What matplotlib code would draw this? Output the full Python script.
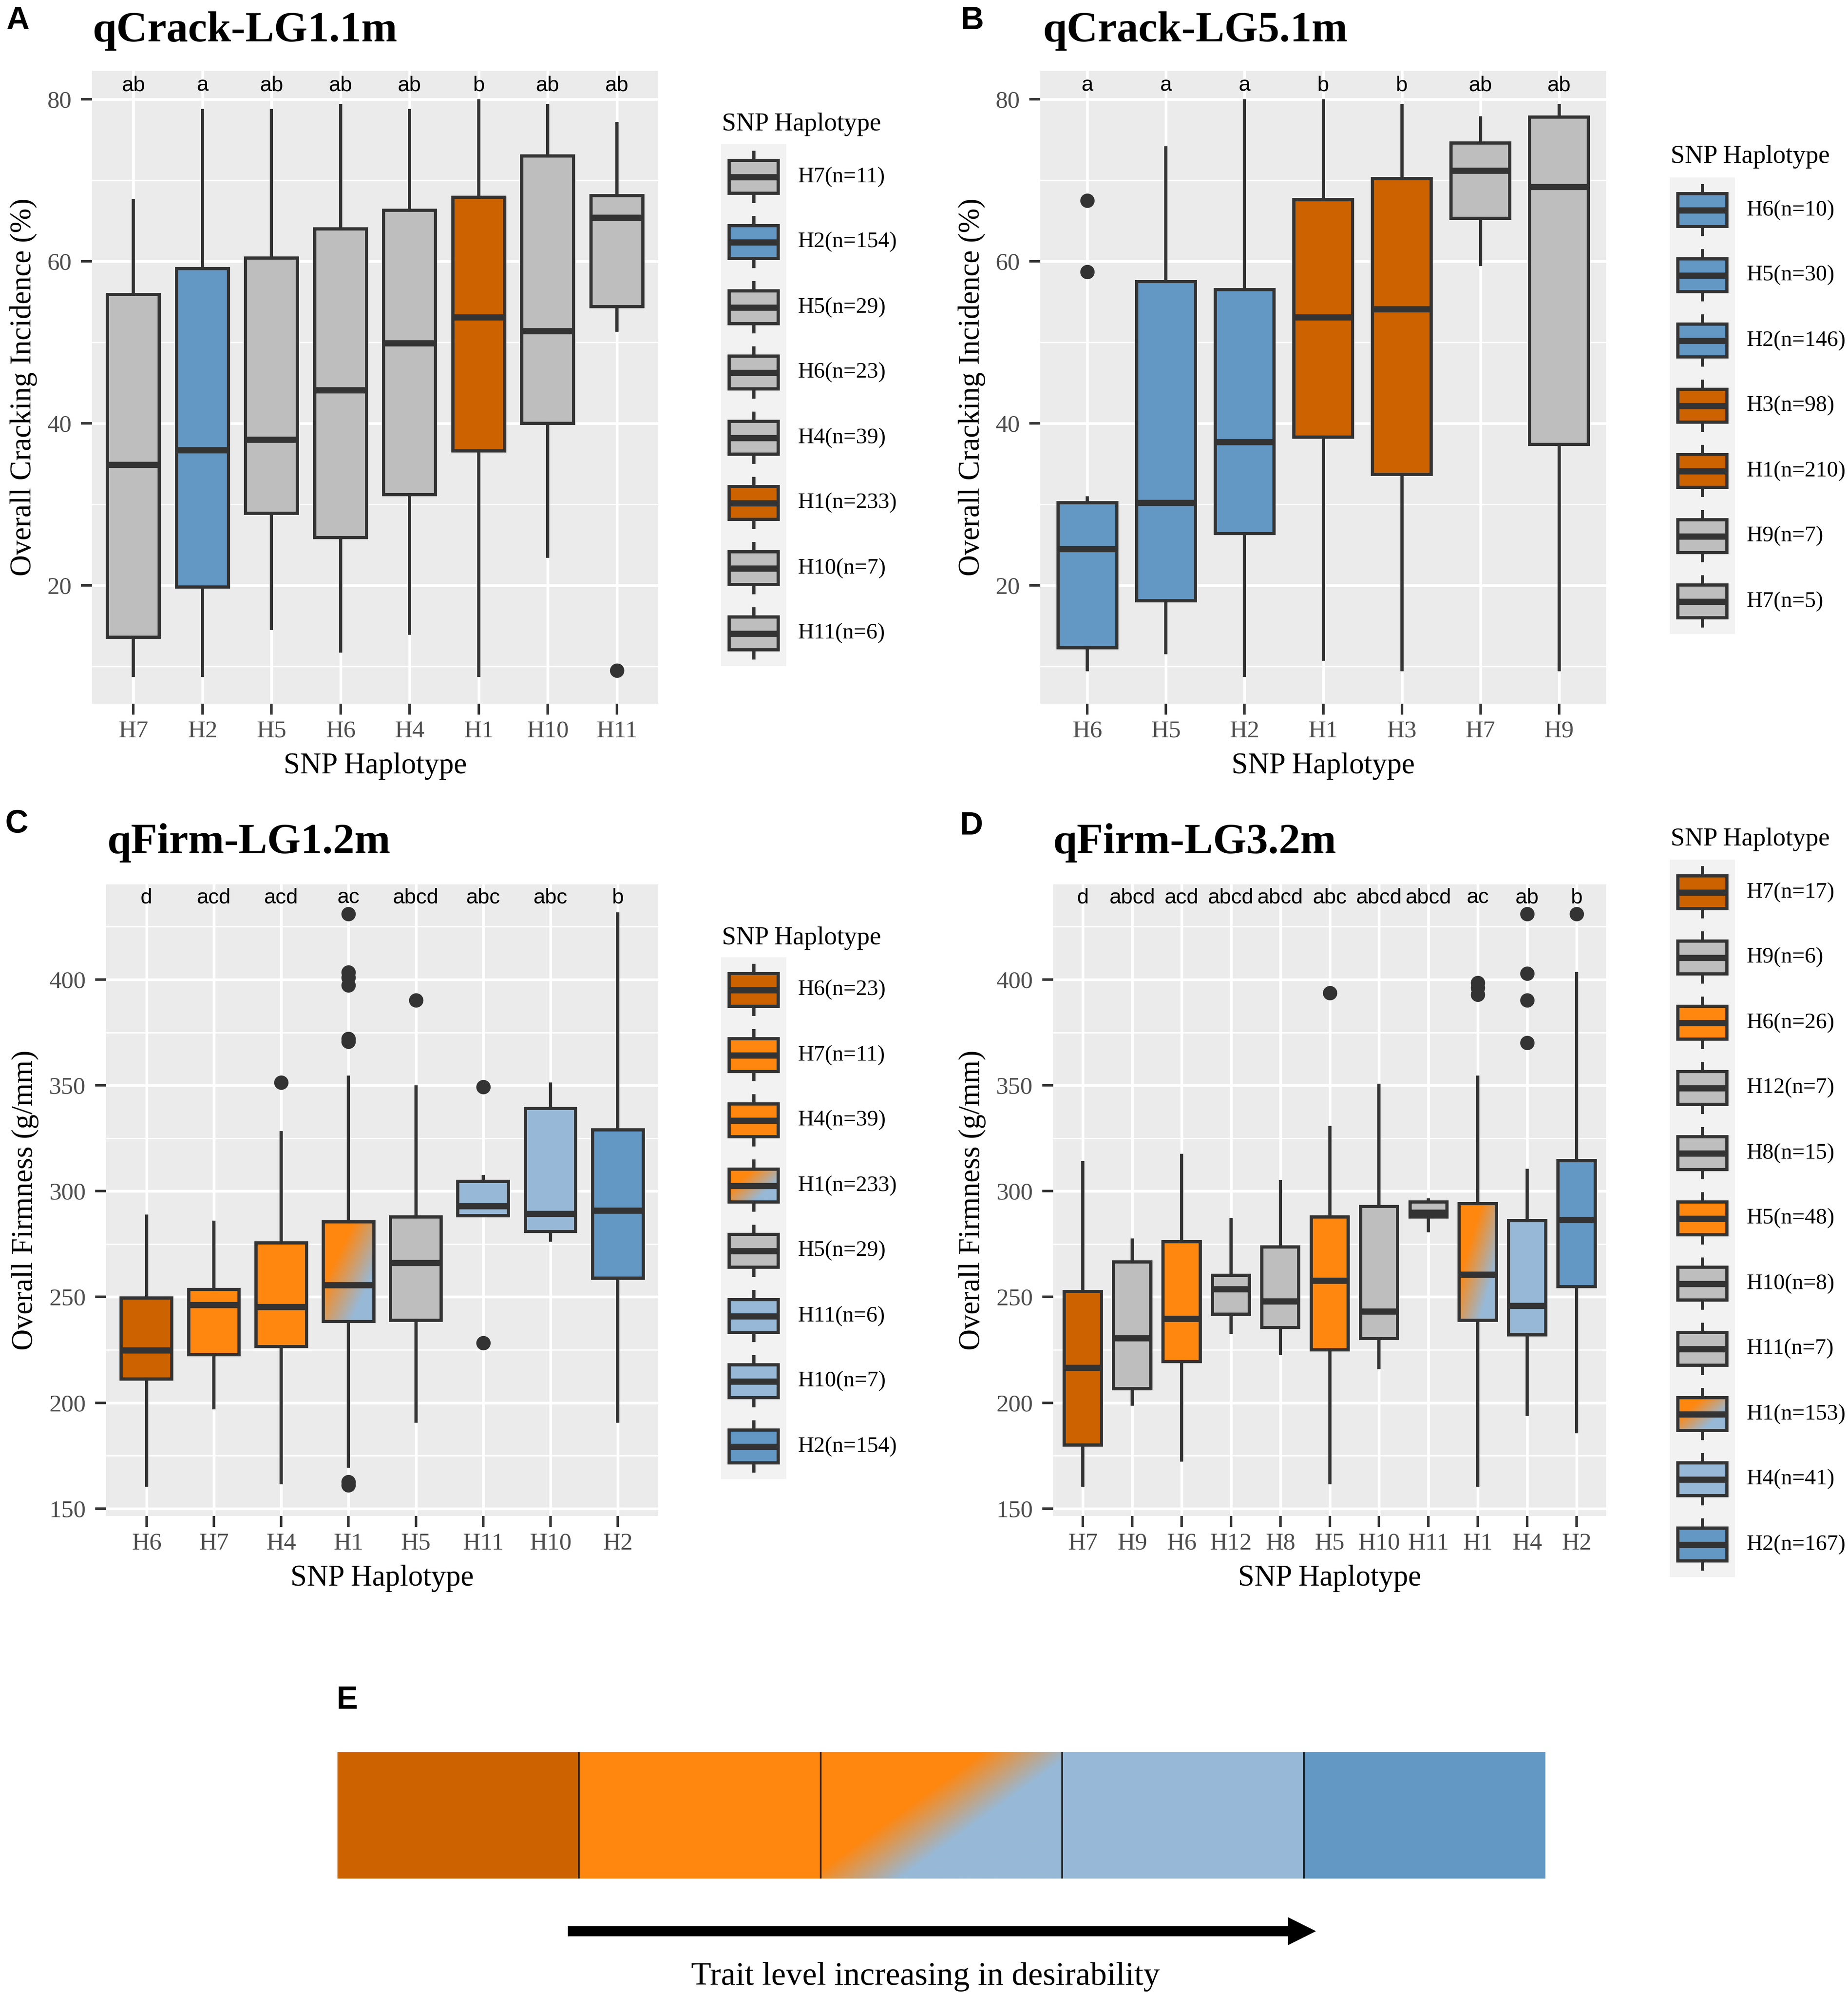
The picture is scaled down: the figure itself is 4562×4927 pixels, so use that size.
import numpy as np
import matplotlib
matplotlib.use('Agg')
import matplotlib.pyplot as plt
from matplotlib.patches import Rectangle, FancyArrow
from matplotlib.colors import to_rgb

plt.rcParams['font.family'] = ['Liberation Serif', 'DejaVu Serif']

# ---------------- data ----------------
DORANGE = '#CC6300'
ORANGE = '#FF870F'
LBLUE = '#97B9D7'
BLUE = '#6397C4'
GREY = '#BEBEBE'
GRAD = 'gradient'

# Panel A: qCrack-LG1.1m
cats_A = ['H7', 'H2', 'H5', 'H6', 'H4', 'H1', 'H10', 'H11']
lo_A = [8.9, 8.9, 14.7, 11.9, 14.1, 8.9, 23.6, 51.5]
q1_A = [13.6, 19.8, 28.9, 25.9, 31.2, 36.6, 40.0, 54.4]
med_A = [34.9, 36.7, 38.0, 44.1, 49.9, 53.1, 51.4, 65.4]
q3_A = [55.9, 59.1, 60.4, 64.0, 66.3, 67.9, 73.0, 68.1]
hi_A = [67.5, 78.6, 78.6, 79.2, 78.6, 79.8, 79.2, 77.0]
fl_A = [[], [], [], [], [], [], [], [9.5]]
col_A = [GREY, BLUE, GREY, GREY, GREY, DORANGE, GREY, GREY]
let_A = ['ab', 'a', 'ab', 'ab', 'ab', 'b', 'ab', 'ab']
leg_A = ['H7(n=11)', 'H2(n=154)', 'H5(n=29)', 'H6(n=23)', 'H4(n=39)',
         'H1(n=233)', 'H10(n=7)', 'H11(n=6)']
legcol_A = [GREY, BLUE, GREY, GREY, GREY, DORANGE, GREY, GREY]

# Panel B: qCrack-LG5.1m
cats_B = ['H6', 'H5', 'H2', 'H1', 'H3', 'H7', 'H9']
lo_B = [9.6, 11.7, 8.9, 10.9, 9.6, 59.6, 9.6]
q1_B = [12.3, 18.1, 26.4, 38.3, 33.7, 65.3, 37.4]
med_B = [24.5, 30.2, 37.7, 53.1, 54.1, 71.2, 69.2]
q3_B = [30.2, 57.5, 56.5, 67.6, 70.2, 74.6, 77.8]
hi_B = [30.8, 74.0, 79.8, 79.8, 79.2, 77.7, 79.2]
fl_B = [[67.5, 58.7], [], [], [], [], [], []]
col_B = [BLUE, BLUE, BLUE, DORANGE, DORANGE, GREY, GREY]
let_B = ['a', 'a', 'a', 'b', 'b', 'ab', 'ab']
leg_B = ['H6(n=10)', 'H5(n=30)', 'H2(n=146)', 'H3(n=98)', 'H1(n=210)',
         'H9(n=7)', 'H7(n=5)']
legcol_B = [BLUE, BLUE, BLUE, DORANGE, DORANGE, GREY, GREY]

# Panel C: qFirm-LG1.2m
cats_C = ['H6', 'H7', 'H4', 'H1', 'H5', 'H11', 'H10', 'H2']
lo_C = [161.0, 197.7, 162.2, 170.0, 191.3, 288.3, 276.8, 191.3]
q1_C = [211.3, 222.8, 226.5, 238.5, 238.9, 288.3, 281.0, 258.8]
med_C = [224.8, 246.3, 245.3, 255.6, 266.1, 293.0, 289.3, 290.8]
q3_C = [249.5, 253.6, 275.6, 285.6, 287.8, 304.7, 339.1, 328.9]
hi_C = [288.1, 285.4, 327.7, 353.8, 349.2, 306.9, 350.6, 431.0]
fl_C = [[], [], [351.4],
        [431.0, 403.4, 401.0, 397.3, 372.1, 370.7, 162.5, 161.0],
        [390.2], [349.2, 228.2], [], []]
col_C = [DORANGE, ORANGE, ORANGE, GRAD, GREY, LBLUE, LBLUE, BLUE]
let_C = ['d', 'acd', 'acd', 'ac', 'abcd', 'abc', 'abc', 'b']
leg_C = ['H6(n=23)', 'H7(n=11)', 'H4(n=39)', 'H1(n=233)', 'H5(n=29)',
         'H11(n=6)', 'H10(n=7)', 'H2(n=154)']
legcol_C = [DORANGE, ORANGE, ORANGE, GRAD, GREY, LBLUE, LBLUE, BLUE]

# Panel D: qFirm-LG3.2m
cats_D = ['H7', 'H9', 'H6', 'H12', 'H8', 'H5', 'H10', 'H11', 'H1', 'H4', 'H2']
lo_D = [161.0, 199.4, 173.0, 233.3, 223.3, 162.2, 216.5, 281.2, 161.0, 194.5, 186.4]
q1_D = [180.1, 206.7, 219.4, 241.9, 235.6, 225.0, 230.4, 287.8, 238.9, 232.1, 254.8]
med_D = [216.5, 230.6, 239.7, 253.7, 248.0, 257.8, 243.1, 290.0, 260.7, 245.8, 286.4]
q3_D = [252.6, 266.6, 276.1, 260.3, 273.7, 287.8, 292.7, 294.9, 294.2, 286.1, 314.5]
hi_D = [313.5, 276.8, 316.9, 286.4, 304.4, 330.1, 350.1, 295.9, 353.8, 309.8, 402.9]
fl_D = [[], [], [], [], [], [393.6], [], [], [398.5, 396.1, 392.9],
        [431.0, 402.9, 390.2, 370.2], [431.0]]
col_D = [DORANGE, GREY, ORANGE, GREY, GREY, ORANGE, GREY, GREY, GRAD, LBLUE, BLUE]
let_D = ['d', 'abcd', 'acd', 'abcd', 'abcd', 'abc', 'abcd', 'abcd', 'ac', 'ab', 'b']
leg_D = ['H7(n=17)', 'H9(n=6)', 'H6(n=26)', 'H12(n=7)', 'H8(n=15)', 'H5(n=48)',
         'H10(n=8)', 'H11(n=7)', 'H1(n=153)', 'H4(n=41)', 'H2(n=167)']
legcol_D = col_D

# Panel E
col_E = [DORANGE, ORANGE, GRAD, LBLUE, BLUE]
text_E = 'Trait level increasing in desirability'

# ---------------- figure ----------------
W, H = 4562, 4927
DPI = 300
fig = plt.figure(figsize=(W / DPI, H / DPI), dpi=DPI)
EDGE = '#333333'
TICKC = '#4D4D4D'
SANS = ['Liberation Sans', 'DejaVu Sans']


def px_axes(l, t, r, b):
    return fig.add_axes([l / W, 1 - b / H, (r - l) / W, (b - t) / H])


def grad_rgb(nx=120, ny=120, slope=0.95, mid=1.05, half=0.45):
    u = np.linspace(0, 1, nx)[None, :]
    v = np.linspace(0, 1, ny)[:, None]
    s = u + slope * v - mid
    w = np.clip((s + half) / (2 * half), 0, 1)
    c0 = np.array(to_rgb(ORANGE))
    c1 = np.array(to_rgb(LBLUE))
    return c0[None, None, :] * (1 - w[..., None]) + c1[None, None, :] * w[..., None]


def panel(ax, cats, lo, q1, med, q3, hi, fl, cols, lets, ylim, yticks, yminor,
          ylabel, lety):
    stats = [dict(med=m, q1=a, q3=b, whislo=l, whishi=h, fliers=f, label=c)
             for c, l, a, m, b, h, f in zip(cats, lo, q1, med, q3, hi, fl)]
    pos = np.arange(len(cats))
    art = ax.bxp(stats, positions=pos, widths=0.75, patch_artist=True,
                 showcaps=False,
                 boxprops=dict(edgecolor=EDGE, linewidth=1.9),
                 whiskerprops=dict(color=EDGE, linewidth=1.9),
                 medianprops=dict(color=EDGE, linewidth=3.7, solid_capstyle='butt'),
                 flierprops=dict(marker='o', markerfacecolor=EDGE,
                                 markeredgecolor=EDGE, markersize=7.5))
    for box, col in zip(art['boxes'], cols):
        if col == GRAD:
            box.set_facecolor('none')
            ext = box.get_path().get_extents()
            im = ax.imshow(grad_rgb(), extent=[ext.x0, ext.x1, ext.y0, ext.y1],
                           origin='upper', aspect='auto', interpolation='bilinear',
                           zorder=box.get_zorder() - 0.05)
            im.set_clip_path(box)
        else:
            box.set_facecolor(col)
    for i, t in enumerate(lets):
        ax.text(i, lety, t, ha='center', va='center', fontsize=12.5,
                family=SANS, color='black')
    ax.set_xlim(-0.6, len(cats) - 0.4)
    ax.set_ylim(*ylim)
    ax.set_xticks(pos)
    ax.set_xticklabels(cats)
    ax.set_yticks(yticks)
    ax.set_yticks(yminor, minor=True)
    ax.set_facecolor('#EBEBEB')
    ax.set_axisbelow(True)
    ax.grid(which='major', color='white', linewidth=1.6)
    ax.grid(which='minor', axis='y', color='white', linewidth=0.8)
    for s in ax.spines.values():
        s.set_visible(False)
    ax.tick_params(which='major', length=6.5, width=1.5, color=EDGE,
                   labelsize=14.5, labelcolor=TICKC)
    ax.tick_params(axis='x', pad=3.5)
    ax.tick_params(axis='y', pad=5.5)
    ax.tick_params(which='minor', length=0)
    ax.set_xlabel('SNP Haplotype', fontsize=17.5, labelpad=6)
    ax.set_ylabel(ylabel, fontsize=17.5, labelpad=6)


crack_ylim = (5.4, 83.5)
crack_ticks = [20, 40, 60, 80]
crack_minor = [10, 30, 50, 70]
firm_ylim = (146.5, 445.0)
firm_ticks = [150, 200, 250, 300, 350, 400]
firm_minor = [175, 225, 275, 325, 375, 425]

axA = px_axes(227, 175, 1625, 1737)
panel(axA, cats_A, lo_A, q1_A, med_A, q3_A, hi_A, fl_A, col_A, let_A,
      crack_ylim, crack_ticks, crack_minor, 'Overall Cracking Incidence (%)', 81.7)
axB = px_axes(2568, 175, 3965, 1737)
panel(axB, cats_B, lo_B, q1_B, med_B, q3_B, hi_B, fl_B, col_B, let_B,
      crack_ylim, crack_ticks, crack_minor, 'Overall Cracking Incidence (%)', 81.7)
axC = px_axes(262, 2183, 1625, 3742)
panel(axC, cats_C, lo_C, q1_C, med_C, q3_C, hi_C, fl_C, col_C, let_C,
      firm_ylim, firm_ticks, firm_minor, 'Overall Firmness (g/mm)', 438.6)
axD = px_axes(2600, 2183, 3965, 3742)
panel(axD, cats_D, lo_D, q1_D, med_D, q3_D, hi_D, fl_D, col_D, let_D,
      firm_ylim, firm_ticks, firm_minor, 'Overall Firmness (g/mm)', 438.6)

# ---------------- overlay (pixel coordinates, y down) ----------------
ov = fig.add_axes([0, 0, 1, 1], zorder=-1)
ov.patch.set_visible(False)
ov.axis('off')


def draw_legend(x0, ytop, labels, cols, title_y):
    K = 161
    ov.text(x0 + 2, title_y, 'SNP Haplotype', fontsize=15.2, va='baseline', ha='left')
    n = len(labels)
    ov.add_patch(Rectangle((x0, ytop), K, K * n, facecolor='#F2F2F2', edgecolor='none'))
    cx = x0 + K / 2
    for i, (lab, col) in enumerate(zip(labels, cols)):
        yt = ytop + K * i
        ov.plot([cx, cx], [yt + 0.1 * K, yt + 0.25 * K], color=EDGE, lw=1.9,
                solid_capstyle='butt')
        ov.plot([cx, cx], [yt + 0.75 * K, yt + 0.9 * K], color=EDGE, lw=1.9,
                solid_capstyle='butt')
        bx0, bx1 = x0 + 0.125 * K, x0 + 0.875 * K
        by0, by1 = yt + 0.25 * K, yt + 0.75 * K
        if col == GRAD:
            ov.imshow(grad_rgb(slope=0.8, mid=0.9, half=0.4),
                      extent=[bx0, bx1, by1, by0], origin='upper',
                      aspect='auto', interpolation='bilinear', zorder=1.5)
            fc = 'none'
        else:
            fc = col
        ov.add_patch(Rectangle((bx0, by0), bx1 - bx0, by1 - by0, facecolor=fc,
                               edgecolor=EDGE, lw=1.9, zorder=2))
        ov.plot([bx0, bx1], [yt + K / 2, yt + K / 2], color=EDGE, lw=3.7,
                solid_capstyle='butt', zorder=3)
        ov.text(x0 + K + 28, yt + K / 2, lab, fontsize=13.2, va='center', ha='left')


draw_legend(1780, 356, leg_A, legcol_A, 322)
draw_legend(4122, 438, leg_B, legcol_B, 402)
draw_legend(1780, 2363, leg_C, legcol_C, 2331)
draw_legend(4122, 2122, leg_D, legcol_D, 2087)

# titles and panel letters
for x, y, t in [(229, 102, 'qCrack-LG1.1m'), (2575, 102, 'qCrack-LG5.1m'),
                (265, 2106, 'qFirm-LG1.2m'), (2600, 2106, 'qFirm-LG3.2m')]:
    ov.text(x, y, t, fontsize=25.5, fontweight='bold', va='baseline', ha='left')
for x, y, t in [(15, 72, 'A'), (2372, 72, 'B'), (13, 2055, 'C'), (2370, 2060, 'D'),
                (831, 4218, 'E')]:
    ov.text(x, y, t, fontsize=19, fontweight='bold', family=SANS,
            va='baseline', ha='left')

# Panel E
axE = px_axes(833, 4325, 3815, 4637)
for i, col in enumerate(col_E):
    if col == GRAD:
        axE.imshow(grad_rgb(300, 160, slope=0.72, mid=0.86, half=0.19),
                   extent=[i, i + 1, 0, 1], origin='upper',
                   aspect='auto', interpolation='bilinear')
    else:
        axE.add_patch(Rectangle((i, 0), 1, 1, facecolor=col, edgecolor='none'))
for i in range(1, len(col_E)):
    axE.plot([i, i], [0, 1], color='#222222', lw=1.0)
axE.set_xlim(0, len(col_E))
axE.set_ylim(0, 1)
axE.axis('off')

ov.add_patch(FancyArrow(1404, 4767, 3244 - 1404, 0, width=21, head_width=62,
                        head_length=62, length_includes_head=True,
                        color='black'))
ov.text(2285, 4879, text_E, fontsize=19.5, ha='center', va='center')

ov.set_xlim(0, W)
ov.set_ylim(H, 0)

fig.savefig('out.png', dpi=DPI)
